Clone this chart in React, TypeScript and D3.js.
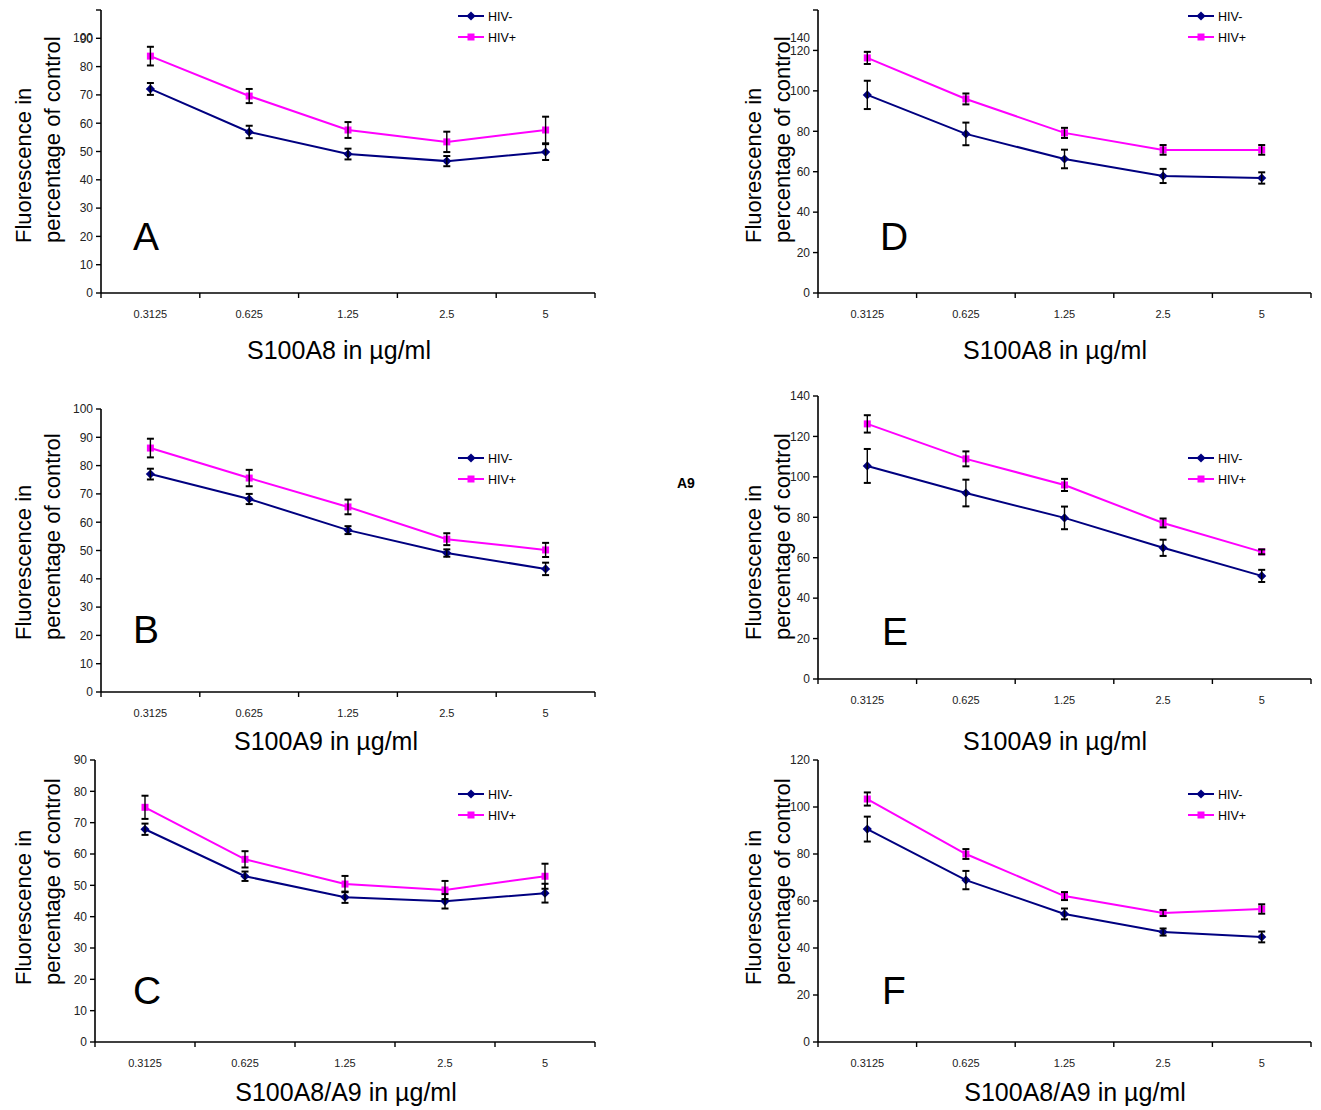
import React from "react";
import * as d3 from "d3";

// shared categories
const doses = ["0.3125", "0.625", "1.25", "2.5", "5"];
const seriesNames = ["HIV-", "HIV+"];
const yTitle = ["Fluorescence in", "percentage of control"];

// A - S100A8
const aNeg = [72.1, 56.9, 49.1, 46.6, 49.8];
const aNegErr = [2.1, 2.2, 1.9, 1.8, 2.8];
const aPos = [83.7, 69.6, 57.6, 53.4, 57.6];
const aPosErr = [3.3, 2.5, 2.8, 3.6, 4.7];

// B - S100A9
const bNeg = [77.0, 68.2, 57.2, 49.1, 43.5];
const bNegErr = [1.9, 1.8, 1.4, 1.3, 2.2];
const bPos = [86.2, 75.6, 65.4, 54.0, 50.2];
const bPosErr = [3.3, 2.9, 2.6, 2.1, 2.5];

// C - S100A8/A9
const cNeg = [67.9, 52.9, 46.2, 44.9, 47.5];
const cNegErr = [1.8, 1.5, 1.8, 2.3, 3.0];
const cPos = [74.9, 58.3, 50.4, 48.5, 52.9];
const cPosErr = [3.7, 2.6, 2.6, 2.9, 4.0];

// D - S100A8
const dNeg = [98.0, 78.7, 66.3, 57.9, 56.9];
const dNegErr = [7.0, 5.6, 4.6, 3.5, 2.8];
const dPos = [116.3, 96.0, 79.2, 70.8, 70.8];
const dPosErr = [3.0, 2.7, 2.5, 2.4, 2.4];

// E - S100A9
const eNeg = [105.4, 92.0, 79.7, 64.9, 51.0];
const eNegErr = [8.4, 6.6, 5.6, 4.0, 3.0];
const ePos = [126.2, 108.9, 96.0, 77.2, 62.9];
const ePosErr = [4.3, 3.7, 3.0, 2.2, 1.2];

// F - S100A8/A9
const fNeg = [90.6, 68.9, 54.5, 46.8, 44.7];
const fNegErr = [5.3, 3.9, 2.3, 1.5, 2.3];
const fPos = [103.4, 80.0, 62.1, 54.9, 56.6];
const fPosErr = [2.8, 2.1, 1.7, 1.3, 2.0];

const NAVY = "#000080";
const MAGENTA = "#ff00ff";
const FONT = "'Liberation Sans', Arial, sans-serif";

type Panel = {
  letter: string;
  xTitle: string;
  neg: number[];
  negErr: number[];
  pos: number[];
  posErr: number[];
  max: number;
  step: number;
  left: number;
  right: number;
  top: number;
  bottom: number;
  topLabelDy: number;
  legendX: number;
  legendY: number;
  titleX: number;
  titleBottom: number;
  xTitleX: number;
  xTitleY: number;
  letterX: number;
  letterY: number;
};

const panels: Panel[] = [
  { letter: "A", xTitle: "S100A8 in µg/ml", neg: aNeg, negErr: aNegErr, pos: aPos, posErr: aPosErr,
    max: 100, step: 10, left: 101, right: 595, top: 10, bottom: 293, topLabelDy: 28,
    legendX: 458, legendY: 16, titleX: 31, titleBottom: 243, xTitleX: 339, xTitleY: 359, letterX: 133, letterY: 250 },
  { letter: "B", xTitle: "S100A9 in µg/ml", neg: bNeg, negErr: bNegErr, pos: bPos, posErr: bPosErr,
    max: 100, step: 10, left: 101, right: 595, top: 409, bottom: 692, topLabelDy: 0,
    legendX: 458, legendY: 458, titleX: 31, titleBottom: 640, xTitleX: 326, xTitleY: 750, letterX: 133, letterY: 643 },
  { letter: "C", xTitle: "S100A8/A9 in µg/ml", neg: cNeg, negErr: cNegErr, pos: cPos, posErr: cPosErr,
    max: 90, step: 10, left: 95, right: 595, top: 760, bottom: 1042, topLabelDy: 0,
    legendX: 458, legendY: 794, titleX: 31, titleBottom: 985, xTitleX: 346, xTitleY: 1101, letterX: 133, letterY: 1004 },
  { letter: "D", xTitle: "S100A8 in µg/ml", neg: dNeg, negErr: dNegErr, pos: dPos, posErr: dPosErr,
    max: 140, step: 20, left: 818, right: 1311, top: 10, bottom: 293, topLabelDy: 28,
    legendX: 1188, legendY: 16, titleX: 761, titleBottom: 243, xTitleX: 1055, xTitleY: 359, letterX: 880, letterY: 250 },
  { letter: "E", xTitle: "S100A9 in µg/ml", neg: eNeg, negErr: eNegErr, pos: ePos, posErr: ePosErr,
    max: 140, step: 20, left: 818, right: 1311, top: 396, bottom: 679, topLabelDy: 0,
    legendX: 1188, legendY: 458, titleX: 761, titleBottom: 640, xTitleX: 1055, xTitleY: 750, letterX: 882, letterY: 645 },
  { letter: "F", xTitle: "S100A8/A9 in µg/ml", neg: fNeg, negErr: fNegErr, pos: fPos, posErr: fPosErr,
    max: 120, step: 20, left: 818, right: 1311, top: 760, bottom: 1042, topLabelDy: 0,
    legendX: 1188, legendY: 794, titleX: 761, titleBottom: 985, xTitleX: 1075, xTitleY: 1101, letterX: 882, letterY: 1004 },
];

const diamond = d3.symbol(d3.symbolSquare, 42)();
const square = d3.symbol(d3.symbolSquare, 49)();

const Marker = ({ kind, x, y }: { kind: number; x: number; y: number }) =>
  kind === 0 ? (
    <path d={diamond as string} transform={`translate(${x},${y}) rotate(45)`} fill={NAVY} />
  ) : (
    <path d={square as string} transform={`translate(${x},${y})`} fill={MAGENTA} />
  );

const ChartPanel = ({ p }: { p: Panel }) => {
  const x = d3.scaleBand<string>().domain(doses).range([p.left, p.right]).padding(0);
  const y = d3.scaleLinear().domain([0, p.max]).range([p.bottom, p.top]);
  const ticks = d3.range(0, p.max + 1, p.step);
  const cx = (d: string) => (x(d) as number) + x.bandwidth() / 2;
  const line = d3
    .line<number>()
    .x((_, i) => cx(doses[i]))
    .y((v) => y(v));
  const series = [
    { vals: p.neg, err: p.negErr, color: NAVY },
    { vals: p.pos, err: p.posErr, color: MAGENTA },
  ];

  return (
    <g fontFamily={FONT}>
      {/* y title */}
      {yTitle.map((t, i) => (
        <text
          key={t}
          transform={`translate(${p.titleX + i * 29},${p.titleBottom}) rotate(-90)`}
          fontSize={22}
          fill="#000"
        >
          {t}
        </text>
      ))}
      {/* y axis */}
      <line x1={p.left} x2={p.left} y1={p.top} y2={p.bottom} stroke="#000" strokeWidth={1.6} />
      {ticks.map((t) => (
        <g key={t}>
          <line x1={p.left - 5} x2={p.left} y1={y(t)} y2={y(t)} stroke="#000" strokeWidth={1.4} />
          <text
            x={p.left - 8}
            y={y(t) + (t === p.max ? p.topLabelDy : 0)}
            dy="0.36em"
            textAnchor="end"
            fontSize={12}
            fill="#222"
          >
            {t}
          </text>
        </g>
      ))}
      {/* x axis */}
      <line x1={p.left} x2={p.right} y1={p.bottom} y2={p.bottom} stroke="#000" strokeWidth={1.6} />
      {d3.range(doses.length + 1).map((i) => {
        const tx = p.left + i * x.bandwidth();
        return <line key={i} x1={tx} x2={tx} y1={p.bottom} y2={p.bottom + 5} stroke="#000" strokeWidth={1.4} />;
      })}
      {doses.map((d) => (
        <text key={d} x={cx(d)} y={p.bottom + 25} textAnchor="middle" fontSize={11} fill="#222">
          {d}
        </text>
      ))}
      <text x={p.xTitleX} y={p.xTitleY} textAnchor="middle" fontSize={25} fill="#000">
        {p.xTitle}
      </text>
      {/* panel letter */}
      <text x={p.letterX} y={p.letterY} fontSize={39} fill="#000">
        {p.letter}
      </text>
      {/* series */}
      {series.map((s, k) => (
        <g key={k}>
          <path d={line(s.vals) as string} fill="none" stroke={s.color} strokeWidth={2} />
          {s.vals.map((v, i) => (
            <Marker key={i} kind={k} x={cx(doses[i])} y={y(v)} />
          ))}
        </g>
      ))}
      {/* error bars */}
      {series.map((s, k) =>
        s.vals.map((v, i) => {
          const px = cx(doses[i]);
          const y1 = y(v + s.err[i]);
          const y2 = y(v - s.err[i]);
          return (
            <g key={`${k}-${i}`} stroke="#000">
              <line x1={px} x2={px} y1={y1} y2={y2} strokeWidth={1.4} />
              <line x1={px - 3.5} x2={px + 3.5} y1={y1} y2={y1} strokeWidth={2} />
              <line x1={px - 3.5} x2={px + 3.5} y1={y2} y2={y2} strokeWidth={2} />
            </g>
          );
        })
      )}
      {/* legend */}
      {seriesNames.map((n, k) => {
        const ly = p.legendY + k * 21;
        const color = k === 0 ? NAVY : MAGENTA;
        return (
          <g key={n}>
            <line x1={p.legendX} x2={p.legendX + 26} y1={ly} y2={ly} stroke={color} strokeWidth={2} />
            <Marker kind={k} x={p.legendX + 13} y={ly} />
            <text x={p.legendX + 30} y={ly} dy="0.36em" fontSize={12.5} fill="#000">
              {n}
            </text>
          </g>
        );
      })}
    </g>
  );
};

export default function App() {
  return (
    <svg
      width={1321}
      height={1110}
      style={{ position: "absolute", left: 0, top: 0, background: "#fff" }}
    >
      <rect width={1321} height={1110} fill="#fff" />
      {panels.map((p) => (
        <ChartPanel key={p.letter} p={p} />
      ))}
      <text x={677} y={488} fontFamily={FONT} fontWeight="bold" fontSize={14} fill="#000">
        A9
      </text>
    </svg>
  );
}
